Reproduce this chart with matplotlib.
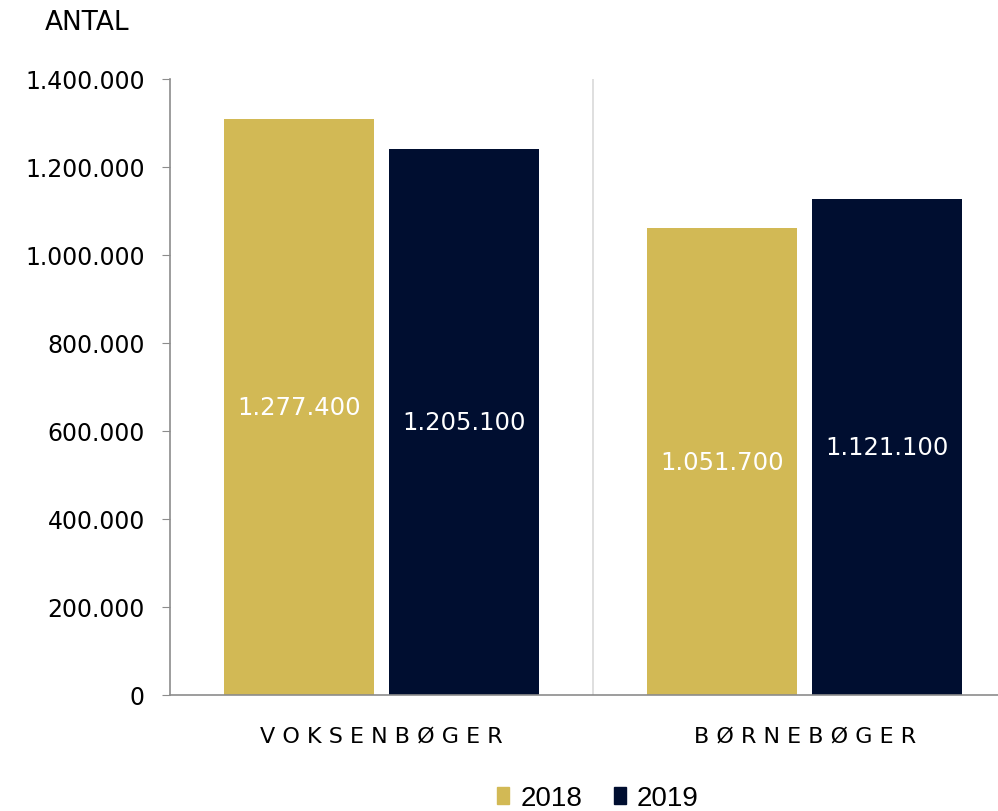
import matplotlib.pyplot as plt
import numpy as np
from matplotlib.patches import Patch

plt.rcParams["font.family"] = ["DejaVu Sans"]

categories = ["VOKSENBØGER", "BØRNEBØGER"]
years = ["2018", "2019"]
# bar heights as drawn in the picture
values_2018 = [1309000, 1061000]
values_2019 = [1241000, 1127000]
# printed labels inside the bars
labels_2018 = ["1.277.400", "1.051.700"]
labels_2019 = ["1.205.100", "1.121.100"]
yticks = [0, 200000, 400000, 600000, 800000, 1000000, 1200000, 1400000]

gold = "#D2B955"
navy = "#000E30"

fig = plt.figure(figsize=(9.98, 8.12), dpi=100)
ax = fig.add_axes([0.1703, 0.1429, 0.848, 0.7586])

x = np.arange(len(categories))
w = 0.355
off = 0.195
b1 = ax.bar(x - off, values_2018, w, color=gold)
b2 = ax.bar(x + off, values_2019, w, color=navy)

for bars, labels in ((b1, labels_2018), (b2, labels_2019)):
    for bar, lab in zip(bars, labels):
        ax.text(bar.get_x() + bar.get_width() / 2, bar.get_height() / 2, lab,
                ha="center", va="center", color="white", fontsize=17.5)

ax.axvline(0.5, color="#D9D9D9", lw=1.2, zorder=0)

ax.set_xlim(-0.5, 1.5)
ax.set_ylim(0, 1400000)
ax.set_yticks(yticks)
ax.set_yticklabels([f"{v:,}".replace(",", ".") for v in yticks], fontsize=17)
ax.tick_params(axis="y", length=6, color="#8C8C8C", pad=12)
ax.set_xticks(x)
ax.set_xticklabels([" ".join(c) for c in categories], fontsize=16)
ax.tick_params(axis="x", length=0, pad=22)
for s in ("top", "right"):
    ax.spines[s].set_visible(False)
for s in ("left", "bottom"):
    ax.spines[s].set_color("#8C8C8C")
    ax.spines[s].set_linewidth(1.2)

fig.text(45 / 998, 1 - 23 / 812, "ANTAL", fontsize=19, va="center", ha="left")

handles = [Patch(color=gold), Patch(color=navy)]
fig.legend(handles, years, loc="center", bbox_to_anchor=(598 / 998, 1 - 799 / 812),
           ncol=2, frameon=False, handlelength=0.42, handleheight=0.55,
           handletextpad=0.4, columnspacing=1.15, borderpad=0,
           prop={"family": ["Liberation Sans", "DejaVu Sans"], "size": 20})

fig.savefig("out.png", dpi=100)
